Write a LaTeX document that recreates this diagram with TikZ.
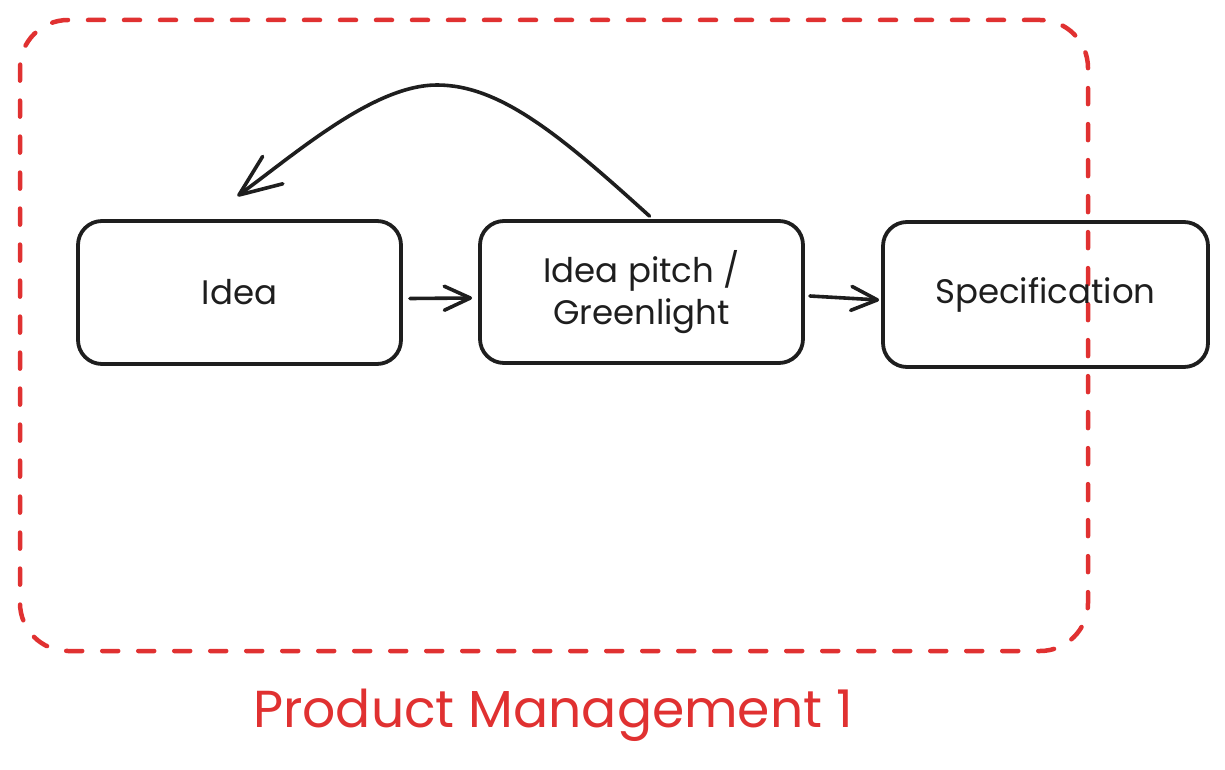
\documentclass[tikz,border=0pt]{standalone}
\usepackage{fontspec}
\setmainfont{Poppins}
\usetikzlibrary{arrows.meta,calc}
\definecolor{exred}{HTML}{E03131}
\definecolor{exink}{HTML}{1E1E1E}
\begin{document}
\begin{tikzpicture}[x=1pt,y=-1pt,
  box/.style={draw=exink, line width=3.8pt, rounded corners=24pt, inner sep=0pt, align=center,
    font=\fontsize{34}{42}\selectfont, text=exink},
  conn/.style={draw=exink, line width=3.6pt, line cap=round, line join=round,
    -{Straight Barb[length=26pt,width=24pt,line width=3.6pt,round]}},
  bigconn/.style={draw=exink, line width=3.6pt, line cap=round, line join=round,
    -{Straight Barb[length=42pt,width=34pt,line width=3.6pt,round]}},
  groupbox/.style={draw=exred, line width=4.5pt, rounded corners=48pt, dash pattern=on 16pt off 20pt,
    line cap=round, inner sep=0pt}]
\useasboundingbox (0,0) rectangle (1225,770);
\node[groupbox, minimum width=1068pt, minimum height=631pt] (group) at (554,335.5) {};
\node[box, minimum width=323pt, minimum height=143pt] (idea) at (239.5,292.5) {Idea};
\node[box, minimum width=323pt, minimum height=142pt] (pitch) at (641.5,292) {Idea pitch /\\Greenlight};
\node[box, minimum width=325pt, minimum height=145pt] (spec) at (1045.5,294.5) {Specification};
\node[font=\fontsize{52}{60}\selectfont, text=exred, inner sep=0pt] (pm) at (553,715) {Product Management 1};
\draw[conn] ($(idea.east)+(7,6)$) -- ($(pitch.west)+(-6,6)$);
\draw[conn] ($(pitch.east)+(5,4)$) -- ($(spec.west)+(-2,5.5)$);
\coordinate (a) at ($(pitch.north)+(8,-3)$);
\coordinate (b) at ($(idea.north)+(-2,-23)$);
\coordinate (peak) at (437,85);
\draw[bigconn] (a) .. controls (560,135) and (500,85) .. (peak) .. controls (375,85) and (300,150) .. (b);
\end{tikzpicture}
\end{document}
